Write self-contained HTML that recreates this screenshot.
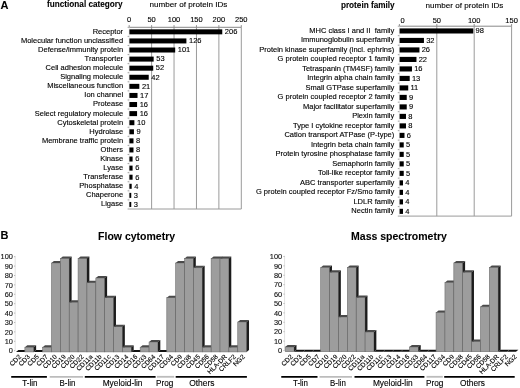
<!DOCTYPE html>
<html><head><meta charset="utf-8"><style>
html,body{margin:0;padding:0;background:#fff;}
body{width:520px;height:388px;overflow:hidden;}
svg{display:block;font-family:"Liberation Sans", sans-serif;will-change:transform;}
#w{width:520px;height:388px;}
</style></head><body><div id="w">
<svg width="520" height="388" viewBox="0 0 520 388">
<rect width="520" height="388" fill="#fff"/>
<text x="0.50" y="8.60" font-size="11" text-anchor="start" font-weight="bold" fill="#000" stroke="#000" stroke-width="0.08" >A</text>
<text x="122.60" y="6.90" font-size="8.2" text-anchor="end" font-weight="bold" fill="#000" stroke="#000" stroke-width="0.08" >functional category</text>
<text x="149.50" y="7.30" font-size="8.1" text-anchor="start" font-weight="normal" fill="#000" stroke="#000" stroke-width="0.12" >number of protein IDs</text>
<text x="129.20" y="22.00" font-size="7.5" text-anchor="middle" font-weight="normal" fill="#000" stroke="#000" stroke-width="0.12" >0</text>
<line x1="129.20" y1="25.10" x2="129.20" y2="27.30" stroke="#777" stroke-width="0.8"/>
<text x="151.62" y="22.00" font-size="7.5" text-anchor="middle" font-weight="normal" fill="#000" stroke="#000" stroke-width="0.12" >50</text>
<line x1="151.62" y1="25.10" x2="151.62" y2="27.30" stroke="#777" stroke-width="0.8"/>
<line x1="151.62" y1="27.30" x2="151.62" y2="209.00" stroke="#9a9a9a" stroke-width="1"/>
<text x="174.04" y="22.00" font-size="7.5" text-anchor="middle" font-weight="normal" fill="#000" stroke="#000" stroke-width="0.12" >100</text>
<line x1="174.04" y1="25.10" x2="174.04" y2="27.30" stroke="#777" stroke-width="0.8"/>
<line x1="174.04" y1="27.30" x2="174.04" y2="209.00" stroke="#9a9a9a" stroke-width="1"/>
<text x="196.46" y="22.00" font-size="7.5" text-anchor="middle" font-weight="normal" fill="#000" stroke="#000" stroke-width="0.12" >150</text>
<line x1="196.46" y1="25.10" x2="196.46" y2="27.30" stroke="#777" stroke-width="0.8"/>
<line x1="196.46" y1="27.30" x2="196.46" y2="209.00" stroke="#9a9a9a" stroke-width="1"/>
<text x="218.88" y="22.00" font-size="7.5" text-anchor="middle" font-weight="normal" fill="#000" stroke="#000" stroke-width="0.12" >200</text>
<line x1="218.88" y1="25.10" x2="218.88" y2="27.30" stroke="#777" stroke-width="0.8"/>
<line x1="218.88" y1="27.30" x2="218.88" y2="209.00" stroke="#9a9a9a" stroke-width="1"/>
<text x="241.30" y="22.00" font-size="7.5" text-anchor="middle" font-weight="normal" fill="#000" stroke="#000" stroke-width="0.12" >250</text>
<line x1="241.30" y1="25.10" x2="241.30" y2="27.30" stroke="#777" stroke-width="0.8"/>
<line x1="241.30" y1="27.30" x2="241.30" y2="209.00" stroke="#9a9a9a" stroke-width="1"/>
<line x1="129.20" y1="27.30" x2="241.30" y2="27.30" stroke="#888" stroke-width="1"/>
<line x1="129.20" y1="209.00" x2="241.30" y2="209.00" stroke="#9a9a9a" stroke-width="1"/>
<line x1="129.20" y1="27.30" x2="129.20" y2="209.00" stroke="#e0e0e0" stroke-width="0.6"/>
<line x1="127.60" y1="27.30" x2="129.20" y2="27.30" stroke="#999" stroke-width="0.9"/>
<line x1="127.60" y1="36.38" x2="129.20" y2="36.38" stroke="#999" stroke-width="0.9"/>
<line x1="127.60" y1="45.47" x2="129.20" y2="45.47" stroke="#999" stroke-width="0.9"/>
<line x1="127.60" y1="54.55" x2="129.20" y2="54.55" stroke="#999" stroke-width="0.9"/>
<line x1="127.60" y1="63.64" x2="129.20" y2="63.64" stroke="#999" stroke-width="0.9"/>
<line x1="127.60" y1="72.72" x2="129.20" y2="72.72" stroke="#999" stroke-width="0.9"/>
<line x1="127.60" y1="81.81" x2="129.20" y2="81.81" stroke="#999" stroke-width="0.9"/>
<line x1="127.60" y1="90.89" x2="129.20" y2="90.89" stroke="#999" stroke-width="0.9"/>
<line x1="127.60" y1="99.98" x2="129.20" y2="99.98" stroke="#999" stroke-width="0.9"/>
<line x1="127.60" y1="109.06" x2="129.20" y2="109.06" stroke="#999" stroke-width="0.9"/>
<line x1="127.60" y1="118.15" x2="129.20" y2="118.15" stroke="#999" stroke-width="0.9"/>
<line x1="127.60" y1="127.23" x2="129.20" y2="127.23" stroke="#999" stroke-width="0.9"/>
<line x1="127.60" y1="136.32" x2="129.20" y2="136.32" stroke="#999" stroke-width="0.9"/>
<line x1="127.60" y1="145.41" x2="129.20" y2="145.41" stroke="#999" stroke-width="0.9"/>
<line x1="127.60" y1="154.49" x2="129.20" y2="154.49" stroke="#999" stroke-width="0.9"/>
<line x1="127.60" y1="163.57" x2="129.20" y2="163.57" stroke="#999" stroke-width="0.9"/>
<line x1="127.60" y1="172.66" x2="129.20" y2="172.66" stroke="#999" stroke-width="0.9"/>
<line x1="127.60" y1="181.75" x2="129.20" y2="181.75" stroke="#999" stroke-width="0.9"/>
<line x1="127.60" y1="190.83" x2="129.20" y2="190.83" stroke="#999" stroke-width="0.9"/>
<line x1="127.60" y1="199.91" x2="129.20" y2="199.91" stroke="#999" stroke-width="0.9"/>
<line x1="127.60" y1="209.00" x2="129.20" y2="209.00" stroke="#999" stroke-width="0.9"/>
<rect x="129.40" y="29.34" width="92.87" height="5.00" fill="#000" />
<text x="123.10" y="33.74" font-size="7.5" text-anchor="end" font-weight="normal" fill="#000" stroke="#000" stroke-width="0.12" >Receptor</text>
<text x="224.87" y="34.14" font-size="7.5" text-anchor="start" font-weight="normal" fill="#000" stroke="#000" stroke-width="0.12" >206</text>
<rect x="129.40" y="38.43" width="57.00" height="5.00" fill="#000" />
<text x="123.10" y="42.83" font-size="7.5" text-anchor="end" font-weight="normal" fill="#000" stroke="#000" stroke-width="0.12" >Molecular function unclassified</text>
<text x="189.00" y="43.23" font-size="7.5" text-anchor="start" font-weight="normal" fill="#000" stroke="#000" stroke-width="0.12" >126</text>
<rect x="129.40" y="47.51" width="45.79" height="5.00" fill="#000" />
<text x="123.10" y="51.91" font-size="7.5" text-anchor="end" font-weight="normal" fill="#000" stroke="#000" stroke-width="0.12" >Defense/immunity protein</text>
<text x="177.79" y="52.31" font-size="7.5" text-anchor="start" font-weight="normal" fill="#000" stroke="#000" stroke-width="0.12" >101</text>
<rect x="129.40" y="56.60" width="24.27" height="5.00" fill="#000" />
<text x="123.10" y="61.00" font-size="7.5" text-anchor="end" font-weight="normal" fill="#000" stroke="#000" stroke-width="0.12" >Transporter</text>
<text x="156.27" y="61.40" font-size="7.5" text-anchor="start" font-weight="normal" fill="#000" stroke="#000" stroke-width="0.12" >53</text>
<rect x="129.40" y="65.68" width="23.82" height="5.00" fill="#000" />
<text x="123.10" y="70.08" font-size="7.5" text-anchor="end" font-weight="normal" fill="#000" stroke="#000" stroke-width="0.12" >Cell adhesion molecule</text>
<text x="155.82" y="70.48" font-size="7.5" text-anchor="start" font-weight="normal" fill="#000" stroke="#000" stroke-width="0.12" >52</text>
<rect x="129.40" y="74.77" width="19.33" height="5.00" fill="#000" />
<text x="123.10" y="79.17" font-size="7.5" text-anchor="end" font-weight="normal" fill="#000" stroke="#000" stroke-width="0.12" >Signaling molecule</text>
<text x="151.33" y="79.57" font-size="7.5" text-anchor="start" font-weight="normal" fill="#000" stroke="#000" stroke-width="0.12" >42</text>
<rect x="129.40" y="83.85" width="9.92" height="5.00" fill="#000" />
<text x="123.10" y="88.25" font-size="7.5" text-anchor="end" font-weight="normal" fill="#000" stroke="#000" stroke-width="0.12" >Miscellaneous function</text>
<text x="141.92" y="88.65" font-size="7.5" text-anchor="start" font-weight="normal" fill="#000" stroke="#000" stroke-width="0.12" >21</text>
<rect x="129.40" y="92.94" width="8.12" height="5.00" fill="#000" />
<text x="123.10" y="97.34" font-size="7.5" text-anchor="end" font-weight="normal" fill="#000" stroke="#000" stroke-width="0.12" >Ion channel</text>
<text x="140.12" y="97.74" font-size="7.5" text-anchor="start" font-weight="normal" fill="#000" stroke="#000" stroke-width="0.12" >17</text>
<rect x="129.40" y="102.02" width="7.67" height="5.00" fill="#000" />
<text x="123.10" y="106.42" font-size="7.5" text-anchor="end" font-weight="normal" fill="#000" stroke="#000" stroke-width="0.12" >Protease</text>
<text x="139.67" y="106.82" font-size="7.5" text-anchor="start" font-weight="normal" fill="#000" stroke="#000" stroke-width="0.12" >16</text>
<rect x="129.40" y="111.11" width="7.67" height="5.00" fill="#000" />
<text x="123.10" y="115.51" font-size="7.5" text-anchor="end" font-weight="normal" fill="#000" stroke="#000" stroke-width="0.12" >Select regulatory molecule</text>
<text x="139.67" y="115.91" font-size="7.5" text-anchor="start" font-weight="normal" fill="#000" stroke="#000" stroke-width="0.12" >16</text>
<rect x="129.40" y="120.19" width="4.98" height="5.00" fill="#000" />
<text x="123.10" y="124.59" font-size="7.5" text-anchor="end" font-weight="normal" fill="#000" stroke="#000" stroke-width="0.12" >Cytoskeletal protein</text>
<text x="136.98" y="124.99" font-size="7.5" text-anchor="start" font-weight="normal" fill="#000" stroke="#000" stroke-width="0.12" >10</text>
<rect x="129.40" y="129.28" width="4.54" height="5.00" fill="#000" />
<text x="123.10" y="133.68" font-size="7.5" text-anchor="end" font-weight="normal" fill="#000" stroke="#000" stroke-width="0.12" >Hydrolase</text>
<text x="136.54" y="134.08" font-size="7.5" text-anchor="start" font-weight="normal" fill="#000" stroke="#000" stroke-width="0.12" >9</text>
<rect x="129.40" y="138.36" width="4.09" height="5.00" fill="#000" />
<text x="123.10" y="142.76" font-size="7.5" text-anchor="end" font-weight="normal" fill="#000" stroke="#000" stroke-width="0.12" >Membrane traffic protein</text>
<text x="136.09" y="143.16" font-size="7.5" text-anchor="start" font-weight="normal" fill="#000" stroke="#000" stroke-width="0.12" >8</text>
<rect x="129.40" y="147.45" width="4.09" height="5.00" fill="#000" />
<text x="123.10" y="151.85" font-size="7.5" text-anchor="end" font-weight="normal" fill="#000" stroke="#000" stroke-width="0.12" >Others</text>
<text x="136.09" y="152.25" font-size="7.5" text-anchor="start" font-weight="normal" fill="#000" stroke="#000" stroke-width="0.12" >8</text>
<rect x="129.40" y="156.53" width="3.19" height="5.00" fill="#000" />
<text x="123.10" y="160.93" font-size="7.5" text-anchor="end" font-weight="normal" fill="#000" stroke="#000" stroke-width="0.12" >Kinase</text>
<text x="135.19" y="161.33" font-size="7.5" text-anchor="start" font-weight="normal" fill="#000" stroke="#000" stroke-width="0.12" >6</text>
<rect x="129.40" y="165.62" width="3.19" height="5.00" fill="#000" />
<text x="123.10" y="170.02" font-size="7.5" text-anchor="end" font-weight="normal" fill="#000" stroke="#000" stroke-width="0.12" >Lyase</text>
<text x="135.19" y="170.42" font-size="7.5" text-anchor="start" font-weight="normal" fill="#000" stroke="#000" stroke-width="0.12" >6</text>
<rect x="129.40" y="174.70" width="3.19" height="5.00" fill="#000" />
<text x="123.10" y="179.10" font-size="7.5" text-anchor="end" font-weight="normal" fill="#000" stroke="#000" stroke-width="0.12" >Transferase</text>
<text x="135.19" y="179.50" font-size="7.5" text-anchor="start" font-weight="normal" fill="#000" stroke="#000" stroke-width="0.12" >6</text>
<rect x="129.40" y="183.79" width="2.29" height="5.00" fill="#000" />
<text x="123.10" y="188.19" font-size="7.5" text-anchor="end" font-weight="normal" fill="#000" stroke="#000" stroke-width="0.12" >Phosphatase</text>
<text x="134.29" y="188.59" font-size="7.5" text-anchor="start" font-weight="normal" fill="#000" stroke="#000" stroke-width="0.12" >4</text>
<rect x="129.40" y="192.87" width="1.85" height="5.00" fill="#000" />
<text x="123.10" y="197.27" font-size="7.5" text-anchor="end" font-weight="normal" fill="#000" stroke="#000" stroke-width="0.12" >Chaperone</text>
<text x="133.85" y="197.67" font-size="7.5" text-anchor="start" font-weight="normal" fill="#000" stroke="#000" stroke-width="0.12" >3</text>
<rect x="129.40" y="201.96" width="1.85" height="5.00" fill="#000" />
<text x="123.10" y="206.36" font-size="7.5" text-anchor="end" font-weight="normal" fill="#000" stroke="#000" stroke-width="0.12" >Ligase</text>
<text x="133.85" y="206.76" font-size="7.5" text-anchor="start" font-weight="normal" fill="#000" stroke="#000" stroke-width="0.12" >3</text>
<text x="394.60" y="7.70" font-size="8.2" text-anchor="end" font-weight="bold" fill="#000" stroke="#000" stroke-width="0.08" >protein family</text>
<text x="425.60" y="8.40" font-size="8.1" text-anchor="start" font-weight="normal" fill="#000" stroke="#000" stroke-width="0.12" >number of protein IDs</text>
<text x="402.60" y="23.00" font-size="7.5" text-anchor="middle" font-weight="normal" fill="#000" stroke="#000" stroke-width="0.12" >0</text>
<line x1="399.40" y1="24.00" x2="399.40" y2="26.20" stroke="#777" stroke-width="0.8"/>
<text x="436.80" y="23.00" font-size="7.5" text-anchor="middle" font-weight="normal" fill="#000" stroke="#000" stroke-width="0.12" >50</text>
<line x1="436.80" y1="24.00" x2="436.80" y2="26.20" stroke="#777" stroke-width="0.8"/>
<line x1="436.80" y1="26.20" x2="436.80" y2="216.10" stroke="#9a9a9a" stroke-width="1"/>
<text x="474.20" y="23.00" font-size="7.5" text-anchor="middle" font-weight="normal" fill="#000" stroke="#000" stroke-width="0.12" >100</text>
<line x1="474.20" y1="24.00" x2="474.20" y2="26.20" stroke="#777" stroke-width="0.8"/>
<line x1="474.20" y1="26.20" x2="474.20" y2="216.10" stroke="#9a9a9a" stroke-width="1"/>
<text x="511.60" y="23.00" font-size="7.5" text-anchor="middle" font-weight="normal" fill="#000" stroke="#000" stroke-width="0.12" >150</text>
<line x1="511.60" y1="24.00" x2="511.60" y2="26.20" stroke="#777" stroke-width="0.8"/>
<line x1="511.60" y1="26.20" x2="511.60" y2="216.10" stroke="#9a9a9a" stroke-width="1"/>
<line x1="399.40" y1="26.20" x2="511.60" y2="26.20" stroke="#888" stroke-width="1"/>
<line x1="399.40" y1="216.10" x2="511.60" y2="216.10" stroke="#9a9a9a" stroke-width="1"/>
<line x1="399.40" y1="26.20" x2="399.40" y2="216.10" stroke="#e0e0e0" stroke-width="0.6"/>
<line x1="397.80" y1="26.20" x2="399.40" y2="26.20" stroke="#999" stroke-width="0.9"/>
<line x1="397.80" y1="35.70" x2="399.40" y2="35.70" stroke="#999" stroke-width="0.9"/>
<line x1="397.80" y1="45.19" x2="399.40" y2="45.19" stroke="#999" stroke-width="0.9"/>
<line x1="397.80" y1="54.69" x2="399.40" y2="54.69" stroke="#999" stroke-width="0.9"/>
<line x1="397.80" y1="64.18" x2="399.40" y2="64.18" stroke="#999" stroke-width="0.9"/>
<line x1="397.80" y1="73.68" x2="399.40" y2="73.68" stroke="#999" stroke-width="0.9"/>
<line x1="397.80" y1="83.17" x2="399.40" y2="83.17" stroke="#999" stroke-width="0.9"/>
<line x1="397.80" y1="92.67" x2="399.40" y2="92.67" stroke="#999" stroke-width="0.9"/>
<line x1="397.80" y1="102.16" x2="399.40" y2="102.16" stroke="#999" stroke-width="0.9"/>
<line x1="397.80" y1="111.66" x2="399.40" y2="111.66" stroke="#999" stroke-width="0.9"/>
<line x1="397.80" y1="121.15" x2="399.40" y2="121.15" stroke="#999" stroke-width="0.9"/>
<line x1="397.80" y1="130.65" x2="399.40" y2="130.65" stroke="#999" stroke-width="0.9"/>
<line x1="397.80" y1="140.14" x2="399.40" y2="140.14" stroke="#999" stroke-width="0.9"/>
<line x1="397.80" y1="149.64" x2="399.40" y2="149.64" stroke="#999" stroke-width="0.9"/>
<line x1="397.80" y1="159.13" x2="399.40" y2="159.13" stroke="#999" stroke-width="0.9"/>
<line x1="397.80" y1="168.62" x2="399.40" y2="168.62" stroke="#999" stroke-width="0.9"/>
<line x1="397.80" y1="178.12" x2="399.40" y2="178.12" stroke="#999" stroke-width="0.9"/>
<line x1="397.80" y1="187.62" x2="399.40" y2="187.62" stroke="#999" stroke-width="0.9"/>
<line x1="397.80" y1="197.11" x2="399.40" y2="197.11" stroke="#999" stroke-width="0.9"/>
<line x1="397.80" y1="206.61" x2="399.40" y2="206.61" stroke="#999" stroke-width="0.9"/>
<line x1="397.80" y1="216.10" x2="399.40" y2="216.10" stroke="#999" stroke-width="0.9"/>
<rect x="399.60" y="28.40" width="73.70" height="5.10" fill="#000" />
<text x="394.30" y="32.95" font-size="7.5" text-anchor="end" font-weight="normal" fill="#000" stroke="#000" stroke-width="0.12" >MHC class I and II  family</text>
<text x="475.50" y="33.15" font-size="7.5" text-anchor="start" font-weight="normal" fill="#000" stroke="#000" stroke-width="0.12" >98</text>
<rect x="399.60" y="37.89" width="24.34" height="5.10" fill="#000" />
<text x="394.30" y="42.44" font-size="7.5" text-anchor="end" font-weight="normal" fill="#000" stroke="#000" stroke-width="0.12" >Immunoglobulin superfamily</text>
<text x="426.14" y="42.64" font-size="7.5" text-anchor="start" font-weight="normal" fill="#000" stroke="#000" stroke-width="0.12" >32</text>
<rect x="399.60" y="47.39" width="19.85" height="5.10" fill="#000" />
<text x="394.30" y="51.94" font-size="7.5" text-anchor="end" font-weight="normal" fill="#000" stroke="#000" stroke-width="0.12" >Protein kinase superfamily (incl. ephrins)</text>
<text x="421.65" y="52.14" font-size="7.5" text-anchor="start" font-weight="normal" fill="#000" stroke="#000" stroke-width="0.12" >26</text>
<rect x="399.60" y="56.88" width="16.86" height="5.10" fill="#000" />
<text x="394.30" y="61.43" font-size="7.5" text-anchor="end" font-weight="normal" fill="#000" stroke="#000" stroke-width="0.12" >G protein coupled receptor 1 family</text>
<text x="418.66" y="61.63" font-size="7.5" text-anchor="start" font-weight="normal" fill="#000" stroke="#000" stroke-width="0.12" >22</text>
<rect x="399.60" y="66.38" width="12.37" height="5.10" fill="#000" />
<text x="394.30" y="70.93" font-size="7.5" text-anchor="end" font-weight="normal" fill="#000" stroke="#000" stroke-width="0.12" >Tetraspanin (TM4SF) family</text>
<text x="414.17" y="71.13" font-size="7.5" text-anchor="start" font-weight="normal" fill="#000" stroke="#000" stroke-width="0.12" >16</text>
<rect x="399.60" y="75.87" width="10.12" height="5.10" fill="#000" />
<text x="394.30" y="80.42" font-size="7.5" text-anchor="end" font-weight="normal" fill="#000" stroke="#000" stroke-width="0.12" >Integrin alpha chain family</text>
<text x="411.92" y="80.62" font-size="7.5" text-anchor="start" font-weight="normal" fill="#000" stroke="#000" stroke-width="0.12" >13</text>
<rect x="399.60" y="85.37" width="8.63" height="5.10" fill="#000" />
<text x="394.30" y="89.92" font-size="7.5" text-anchor="end" font-weight="normal" fill="#000" stroke="#000" stroke-width="0.12" >Small GTPase superfamily</text>
<text x="410.43" y="90.12" font-size="7.5" text-anchor="start" font-weight="normal" fill="#000" stroke="#000" stroke-width="0.12" >11</text>
<rect x="399.60" y="94.86" width="7.13" height="5.10" fill="#000" />
<text x="394.30" y="99.41" font-size="7.5" text-anchor="end" font-weight="normal" fill="#000" stroke="#000" stroke-width="0.12" >G protein coupled receptor 2 family</text>
<text x="408.93" y="99.61" font-size="7.5" text-anchor="start" font-weight="normal" fill="#000" stroke="#000" stroke-width="0.12" >9</text>
<rect x="399.60" y="104.36" width="7.13" height="5.10" fill="#000" />
<text x="394.30" y="108.91" font-size="7.5" text-anchor="end" font-weight="normal" fill="#000" stroke="#000" stroke-width="0.12" >Major facilitator superfamily</text>
<text x="408.93" y="109.11" font-size="7.5" text-anchor="start" font-weight="normal" fill="#000" stroke="#000" stroke-width="0.12" >9</text>
<rect x="399.60" y="113.85" width="6.38" height="5.10" fill="#000" />
<text x="394.30" y="118.40" font-size="7.5" text-anchor="end" font-weight="normal" fill="#000" stroke="#000" stroke-width="0.12" >Plexin family</text>
<text x="408.18" y="118.60" font-size="7.5" text-anchor="start" font-weight="normal" fill="#000" stroke="#000" stroke-width="0.12" >8</text>
<rect x="399.60" y="123.35" width="6.38" height="5.10" fill="#000" />
<text x="394.30" y="127.90" font-size="7.5" text-anchor="end" font-weight="normal" fill="#000" stroke="#000" stroke-width="0.12" >Type I cytokine receptor family</text>
<text x="408.18" y="128.10" font-size="7.5" text-anchor="start" font-weight="normal" fill="#000" stroke="#000" stroke-width="0.12" >8</text>
<rect x="399.60" y="132.84" width="4.89" height="5.10" fill="#000" />
<text x="394.30" y="137.39" font-size="7.5" text-anchor="end" font-weight="normal" fill="#000" stroke="#000" stroke-width="0.12" >Cation transport ATPase (P-type)</text>
<text x="406.69" y="137.59" font-size="7.5" text-anchor="start" font-weight="normal" fill="#000" stroke="#000" stroke-width="0.12" >6</text>
<rect x="399.60" y="142.34" width="4.14" height="5.10" fill="#000" />
<text x="394.30" y="146.89" font-size="7.5" text-anchor="end" font-weight="normal" fill="#000" stroke="#000" stroke-width="0.12" >Integrin beta chain family</text>
<text x="405.94" y="147.09" font-size="7.5" text-anchor="start" font-weight="normal" fill="#000" stroke="#000" stroke-width="0.12" >5</text>
<rect x="399.60" y="151.83" width="4.14" height="5.10" fill="#000" />
<text x="394.30" y="156.38" font-size="7.5" text-anchor="end" font-weight="normal" fill="#000" stroke="#000" stroke-width="0.12" >Protein tyrosine phosphatase family</text>
<text x="405.94" y="156.58" font-size="7.5" text-anchor="start" font-weight="normal" fill="#000" stroke="#000" stroke-width="0.12" >5</text>
<rect x="399.60" y="161.33" width="4.14" height="5.10" fill="#000" />
<text x="394.30" y="165.88" font-size="7.5" text-anchor="end" font-weight="normal" fill="#000" stroke="#000" stroke-width="0.12" >Semaphorin family</text>
<text x="405.94" y="166.08" font-size="7.5" text-anchor="start" font-weight="normal" fill="#000" stroke="#000" stroke-width="0.12" >5</text>
<rect x="399.60" y="170.82" width="4.14" height="5.10" fill="#000" />
<text x="394.30" y="175.37" font-size="7.5" text-anchor="end" font-weight="normal" fill="#000" stroke="#000" stroke-width="0.12" >Toll-like receptor family</text>
<text x="405.94" y="175.57" font-size="7.5" text-anchor="start" font-weight="normal" fill="#000" stroke="#000" stroke-width="0.12" >5</text>
<rect x="399.60" y="180.32" width="3.39" height="5.10" fill="#000" />
<text x="394.30" y="184.87" font-size="7.5" text-anchor="end" font-weight="normal" fill="#000" stroke="#000" stroke-width="0.12" >ABC transporter superfamily</text>
<text x="405.19" y="185.07" font-size="7.5" text-anchor="start" font-weight="normal" fill="#000" stroke="#000" stroke-width="0.12" >4</text>
<rect x="399.60" y="189.81" width="3.39" height="5.10" fill="#000" />
<text x="394.30" y="194.36" font-size="7.5" text-anchor="end" font-weight="normal" fill="#000" stroke="#000" stroke-width="0.12" >G protein coupled receptor Fz/Smo family</text>
<text x="405.19" y="194.56" font-size="7.5" text-anchor="start" font-weight="normal" fill="#000" stroke="#000" stroke-width="0.12" >4</text>
<rect x="399.60" y="199.31" width="3.39" height="5.10" fill="#000" />
<text x="394.30" y="203.86" font-size="7.5" text-anchor="end" font-weight="normal" fill="#000" stroke="#000" stroke-width="0.12" >LDLR family</text>
<text x="405.19" y="204.06" font-size="7.5" text-anchor="start" font-weight="normal" fill="#000" stroke="#000" stroke-width="0.12" >4</text>
<rect x="399.60" y="208.80" width="3.39" height="5.10" fill="#000" />
<text x="394.30" y="213.35" font-size="7.5" text-anchor="end" font-weight="normal" fill="#000" stroke="#000" stroke-width="0.12" >Nectin family</text>
<text x="405.19" y="213.55" font-size="7.5" text-anchor="start" font-weight="normal" fill="#000" stroke="#000" stroke-width="0.12" >4</text>
<text x="0.50" y="239.20" font-size="11" text-anchor="start" font-weight="bold" fill="#000" stroke="#000" stroke-width="0.08" >B</text>
<text x="98.10" y="240.00" font-size="10.5" text-anchor="start" font-weight="bold" fill="#000" stroke="#000" stroke-width="0.08" >Flow cytometry</text>
<text x="351.10" y="239.50" font-size="10.5" text-anchor="start" font-weight="bold" fill="#000" stroke="#000" stroke-width="0.08" >Mass spectrometry</text>
<line x1="15.20" y1="255.90" x2="15.20" y2="350.40" stroke="#e2e2e2" stroke-width="1"/>
<text x="12.90" y="353.35" font-size="7.4" text-anchor="end" font-weight="normal" fill="#111" stroke="#111" stroke-width="0.12" >0</text>
<line x1="14.00" y1="350.70" x2="15.20" y2="350.70" stroke="#aaa" stroke-width="0.8"/>
<text x="12.90" y="343.95" font-size="7.4" text-anchor="end" font-weight="normal" fill="#111" stroke="#111" stroke-width="0.12" >10</text>
<line x1="14.00" y1="341.30" x2="15.20" y2="341.30" stroke="#aaa" stroke-width="0.8"/>
<text x="12.90" y="334.55" font-size="7.4" text-anchor="end" font-weight="normal" fill="#111" stroke="#111" stroke-width="0.12" >20</text>
<line x1="14.00" y1="331.90" x2="15.20" y2="331.90" stroke="#aaa" stroke-width="0.8"/>
<text x="12.90" y="325.15" font-size="7.4" text-anchor="end" font-weight="normal" fill="#111" stroke="#111" stroke-width="0.12" >30</text>
<line x1="14.00" y1="322.50" x2="15.20" y2="322.50" stroke="#aaa" stroke-width="0.8"/>
<text x="12.90" y="315.75" font-size="7.4" text-anchor="end" font-weight="normal" fill="#111" stroke="#111" stroke-width="0.12" >40</text>
<line x1="14.00" y1="313.10" x2="15.20" y2="313.10" stroke="#aaa" stroke-width="0.8"/>
<text x="12.90" y="306.35" font-size="7.4" text-anchor="end" font-weight="normal" fill="#111" stroke="#111" stroke-width="0.12" >50</text>
<line x1="14.00" y1="303.70" x2="15.20" y2="303.70" stroke="#aaa" stroke-width="0.8"/>
<text x="12.90" y="296.95" font-size="7.4" text-anchor="end" font-weight="normal" fill="#111" stroke="#111" stroke-width="0.12" >60</text>
<line x1="14.00" y1="294.30" x2="15.20" y2="294.30" stroke="#aaa" stroke-width="0.8"/>
<text x="12.90" y="287.55" font-size="7.4" text-anchor="end" font-weight="normal" fill="#111" stroke="#111" stroke-width="0.12" >70</text>
<line x1="14.00" y1="284.90" x2="15.20" y2="284.90" stroke="#aaa" stroke-width="0.8"/>
<text x="12.90" y="278.15" font-size="7.4" text-anchor="end" font-weight="normal" fill="#111" stroke="#111" stroke-width="0.12" >80</text>
<line x1="14.00" y1="275.50" x2="15.20" y2="275.50" stroke="#aaa" stroke-width="0.8"/>
<text x="12.90" y="268.75" font-size="7.4" text-anchor="end" font-weight="normal" fill="#111" stroke="#111" stroke-width="0.12" >90</text>
<line x1="14.00" y1="266.10" x2="15.20" y2="266.10" stroke="#aaa" stroke-width="0.8"/>
<text x="12.90" y="259.35" font-size="7.4" text-anchor="end" font-weight="normal" fill="#111" stroke="#111" stroke-width="0.12" >100</text>
<line x1="14.00" y1="256.70" x2="15.20" y2="256.70" stroke="#aaa" stroke-width="0.8"/>
<polygon points="16.00,351.90 18.40,349.90 27.27,349.90 24.87,351.90" fill="#111" />
<polygon points="24.87,351.90 27.27,349.90 27.27,349.90 24.87,351.90" fill="#1c1c1c" />
<rect x="24.87" y="347.22" width="8.87" height="4.68" fill="#9d9d9d" stroke="#6f6f6f" stroke-width="0.6"/>
<polygon points="24.87,347.22 27.27,345.22 36.14,345.22 33.74,347.22" fill="#4a4a4a" />
<polygon points="33.74,347.22 36.14,345.22 36.14,349.90 33.74,351.90" fill="#1c1c1c" />
<polygon points="33.74,351.90 36.14,349.90 45.01,349.90 42.61,351.90" fill="#111" />
<polygon points="42.61,351.90 45.01,349.90 45.01,349.90 42.61,351.90" fill="#1c1c1c" />
<rect x="42.61" y="347.22" width="8.87" height="4.68" fill="#9d9d9d" stroke="#6f6f6f" stroke-width="0.6"/>
<polygon points="42.61,347.22 45.01,345.22 53.88,345.22 51.48,347.22" fill="#4a4a4a" />
<polygon points="51.48,347.22 53.88,345.22 53.88,349.90 51.48,351.90" fill="#1c1c1c" />
<rect x="51.48" y="263.07" width="8.87" height="88.83" fill="#9d9d9d" stroke="#6f6f6f" stroke-width="0.6"/>
<polygon points="51.48,263.07 53.88,261.07 62.75,261.07 60.35,263.07" fill="#4a4a4a" />
<polygon points="60.35,263.07 62.75,261.07 62.75,349.90 60.35,351.90" fill="#1c1c1c" />
<rect x="60.35" y="258.40" width="8.87" height="93.50" fill="#9d9d9d" stroke="#6f6f6f" stroke-width="0.6"/>
<polygon points="60.35,258.40 62.75,256.40 71.62,256.40 69.22,258.40" fill="#4a4a4a" />
<polygon points="69.22,258.40 71.62,256.40 71.62,349.90 69.22,351.90" fill="#1c1c1c" />
<rect x="69.22" y="302.34" width="8.87" height="49.55" fill="#9d9d9d" stroke="#6f6f6f" stroke-width="0.6"/>
<polygon points="69.22,302.34 71.62,300.34 80.49,300.34 78.09,302.34" fill="#4a4a4a" />
<polygon points="78.09,302.34 80.49,300.34 80.49,349.90 78.09,351.90" fill="#1c1c1c" />
<rect x="78.09" y="258.40" width="8.87" height="93.50" fill="#9d9d9d" stroke="#6f6f6f" stroke-width="0.6"/>
<polygon points="78.09,258.40 80.49,256.40 89.36,256.40 86.96,258.40" fill="#4a4a4a" />
<polygon points="86.96,258.40 89.36,256.40 89.36,349.90 86.96,351.90" fill="#1c1c1c" />
<rect x="86.96" y="282.71" width="8.87" height="69.19" fill="#9d9d9d" stroke="#6f6f6f" stroke-width="0.6"/>
<polygon points="86.96,282.71 89.36,280.71 98.23,280.71 95.83,282.71" fill="#4a4a4a" />
<polygon points="95.83,282.71 98.23,280.71 98.23,349.90 95.83,351.90" fill="#1c1c1c" />
<rect x="95.83" y="278.03" width="8.87" height="73.87" fill="#9d9d9d" stroke="#6f6f6f" stroke-width="0.6"/>
<polygon points="95.83,278.03 98.23,276.03 107.10,276.03 104.70,278.03" fill="#4a4a4a" />
<polygon points="104.70,278.03 107.10,276.03 107.10,349.90 104.70,351.90" fill="#1c1c1c" />
<rect x="104.70" y="297.67" width="8.87" height="54.23" fill="#9d9d9d" stroke="#6f6f6f" stroke-width="0.6"/>
<polygon points="104.70,297.67 107.10,295.67 115.97,295.67 113.57,297.67" fill="#4a4a4a" />
<polygon points="113.57,297.67 115.97,295.67 115.97,349.90 113.57,351.90" fill="#1c1c1c" />
<rect x="113.57" y="326.65" width="8.87" height="25.25" fill="#9d9d9d" stroke="#6f6f6f" stroke-width="0.6"/>
<polygon points="113.57,326.65 115.97,324.65 124.84,324.65 122.44,326.65" fill="#4a4a4a" />
<polygon points="122.44,326.65 124.84,324.65 124.84,349.90 122.44,351.90" fill="#1c1c1c" />
<rect x="122.44" y="347.22" width="8.87" height="4.68" fill="#9d9d9d" stroke="#6f6f6f" stroke-width="0.6"/>
<polygon points="122.44,347.22 124.84,345.22 133.71,345.22 131.31,347.22" fill="#4a4a4a" />
<polygon points="131.31,347.22 133.71,345.22 133.71,349.90 131.31,351.90" fill="#1c1c1c" />
<polygon points="131.31,351.90 133.71,349.90 142.58,349.90 140.18,351.90" fill="#111" />
<polygon points="140.18,351.90 142.58,349.90 142.58,349.90 140.18,351.90" fill="#1c1c1c" />
<rect x="140.18" y="347.22" width="8.87" height="4.68" fill="#9d9d9d" stroke="#6f6f6f" stroke-width="0.6"/>
<polygon points="140.18,347.22 142.58,345.22 151.45,345.22 149.05,347.22" fill="#4a4a4a" />
<polygon points="149.05,347.22 151.45,345.22 151.45,349.90 149.05,351.90" fill="#1c1c1c" />
<rect x="149.05" y="342.08" width="8.87" height="9.82" fill="#9d9d9d" stroke="#6f6f6f" stroke-width="0.6"/>
<polygon points="149.05,342.08 151.45,340.08 160.32,340.08 157.92,342.08" fill="#4a4a4a" />
<polygon points="157.92,342.08 160.32,340.08 160.32,349.90 157.92,351.90" fill="#1c1c1c" />
<polygon points="157.92,351.90 160.32,349.90 169.19,349.90 166.79,351.90" fill="#111" />
<polygon points="166.79,351.90 169.19,349.90 169.19,349.90 166.79,351.90" fill="#1c1c1c" />
<rect x="166.79" y="297.67" width="8.87" height="54.23" fill="#9d9d9d" stroke="#6f6f6f" stroke-width="0.6"/>
<polygon points="166.79,297.67 169.19,295.67 178.06,295.67 175.66,297.67" fill="#4a4a4a" />
<polygon points="175.66,297.67 178.06,295.67 178.06,349.90 175.66,351.90" fill="#1c1c1c" />
<rect x="175.66" y="263.07" width="8.87" height="88.83" fill="#9d9d9d" stroke="#6f6f6f" stroke-width="0.6"/>
<polygon points="175.66,263.07 178.06,261.07 186.93,261.07 184.53,263.07" fill="#4a4a4a" />
<polygon points="184.53,263.07 186.93,261.07 186.93,349.90 184.53,351.90" fill="#1c1c1c" />
<rect x="184.53" y="258.40" width="8.87" height="93.50" fill="#9d9d9d" stroke="#6f6f6f" stroke-width="0.6"/>
<polygon points="184.53,258.40 186.93,256.40 195.80,256.40 193.40,258.40" fill="#4a4a4a" />
<polygon points="193.40,258.40 195.80,256.40 195.80,349.90 193.40,351.90" fill="#1c1c1c" />
<rect x="193.40" y="267.75" width="8.87" height="84.15" fill="#9d9d9d" stroke="#6f6f6f" stroke-width="0.6"/>
<polygon points="193.40,267.75 195.80,265.75 204.67,265.75 202.27,267.75" fill="#4a4a4a" />
<polygon points="202.27,267.75 204.67,265.75 204.67,349.90 202.27,351.90" fill="#1c1c1c" />
<rect x="202.27" y="347.22" width="8.87" height="4.68" fill="#9d9d9d" stroke="#6f6f6f" stroke-width="0.6"/>
<polygon points="202.27,347.22 204.67,345.22 213.54,345.22 211.14,347.22" fill="#4a4a4a" />
<polygon points="211.14,347.22 213.54,345.22 213.54,349.90 211.14,351.90" fill="#1c1c1c" />
<rect x="211.14" y="258.40" width="8.87" height="93.50" fill="#9d9d9d" stroke="#6f6f6f" stroke-width="0.6"/>
<polygon points="211.14,258.40 213.54,256.40 222.41,256.40 220.01,258.40" fill="#4a4a4a" />
<polygon points="220.01,258.40 222.41,256.40 222.41,349.90 220.01,351.90" fill="#1c1c1c" />
<rect x="220.01" y="258.40" width="8.87" height="93.50" fill="#9d9d9d" stroke="#6f6f6f" stroke-width="0.6"/>
<polygon points="220.01,258.40 222.41,256.40 231.28,256.40 228.88,258.40" fill="#4a4a4a" />
<polygon points="228.88,258.40 231.28,256.40 231.28,349.90 228.88,351.90" fill="#1c1c1c" />
<rect x="228.88" y="347.22" width="8.87" height="4.68" fill="#9d9d9d" stroke="#6f6f6f" stroke-width="0.6"/>
<polygon points="228.88,347.22 231.28,345.22 240.15,345.22 237.75,347.22" fill="#4a4a4a" />
<polygon points="237.75,347.22 240.15,345.22 240.15,349.90 237.75,351.90" fill="#1c1c1c" />
<rect x="237.75" y="321.98" width="8.87" height="29.92" fill="#9d9d9d" stroke="#6f6f6f" stroke-width="0.6"/>
<polygon points="237.75,321.98 240.15,319.98 249.02,319.98 246.62,321.98" fill="#4a4a4a" />
<polygon points="246.62,321.98 249.02,319.98 249.02,349.90 246.62,351.90" fill="#1c1c1c" />
<text x="21.54" y="357.20" font-size="6.6" text-anchor="end" font-weight="normal" fill="#000" stroke="#000" stroke-width="0.12" transform="rotate(-45 21.54 357.20)">CD2</text>
<text x="30.48" y="357.20" font-size="6.6" text-anchor="end" font-weight="normal" fill="#000" stroke="#000" stroke-width="0.12" transform="rotate(-45 30.48 357.20)">CD3</text>
<text x="39.43" y="357.20" font-size="6.6" text-anchor="end" font-weight="normal" fill="#000" stroke="#000" stroke-width="0.12" transform="rotate(-45 39.43 357.20)">CD5</text>
<text x="48.39" y="357.20" font-size="6.6" text-anchor="end" font-weight="normal" fill="#000" stroke="#000" stroke-width="0.12" transform="rotate(-45 48.39 357.20)">CD7</text>
<text x="57.34" y="357.20" font-size="6.6" text-anchor="end" font-weight="normal" fill="#000" stroke="#000" stroke-width="0.12" transform="rotate(-45 57.34 357.20)">CD10</text>
<text x="66.28" y="357.20" font-size="6.6" text-anchor="end" font-weight="normal" fill="#000" stroke="#000" stroke-width="0.12" transform="rotate(-45 66.28 357.20)">CD19</text>
<text x="75.23" y="357.20" font-size="6.6" text-anchor="end" font-weight="normal" fill="#000" stroke="#000" stroke-width="0.12" transform="rotate(-45 75.23 357.20)">CD20</text>
<text x="84.18" y="357.20" font-size="6.6" text-anchor="end" font-weight="normal" fill="#000" stroke="#000" stroke-width="0.12" transform="rotate(-45 84.18 357.20)">CD22</text>
<text x="93.13" y="357.20" font-size="6.6" text-anchor="end" font-weight="normal" fill="#000" stroke="#000" stroke-width="0.12" transform="rotate(-45 93.13 357.20)">CD11a</text>
<text x="102.08" y="357.20" font-size="6.6" text-anchor="end" font-weight="normal" fill="#000" stroke="#000" stroke-width="0.12" transform="rotate(-45 102.08 357.20)">CD11b</text>
<text x="111.03" y="357.20" font-size="6.6" text-anchor="end" font-weight="normal" fill="#000" stroke="#000" stroke-width="0.12" transform="rotate(-45 111.03 357.20)">CD11c</text>
<text x="119.98" y="357.20" font-size="6.6" text-anchor="end" font-weight="normal" fill="#000" stroke="#000" stroke-width="0.12" transform="rotate(-45 119.98 357.20)">CD13</text>
<text x="128.93" y="357.20" font-size="6.6" text-anchor="end" font-weight="normal" fill="#000" stroke="#000" stroke-width="0.12" transform="rotate(-45 128.93 357.20)">CD14</text>
<text x="137.88" y="357.20" font-size="6.6" text-anchor="end" font-weight="normal" fill="#000" stroke="#000" stroke-width="0.12" transform="rotate(-45 137.88 357.20)">CD16</text>
<text x="146.83" y="357.20" font-size="6.6" text-anchor="end" font-weight="normal" fill="#000" stroke="#000" stroke-width="0.12" transform="rotate(-45 146.83 357.20)">CD33</text>
<text x="155.78" y="357.20" font-size="6.6" text-anchor="end" font-weight="normal" fill="#000" stroke="#000" stroke-width="0.12" transform="rotate(-45 155.78 357.20)">CD64</text>
<text x="164.73" y="357.20" font-size="6.6" text-anchor="end" font-weight="normal" fill="#000" stroke="#000" stroke-width="0.12" transform="rotate(-45 164.73 357.20)">CD117</text>
<text x="173.69" y="357.20" font-size="6.6" text-anchor="end" font-weight="normal" fill="#000" stroke="#000" stroke-width="0.12" transform="rotate(-45 173.69 357.20)">CD34</text>
<text x="182.63" y="357.20" font-size="6.6" text-anchor="end" font-weight="normal" fill="#000" stroke="#000" stroke-width="0.12" transform="rotate(-45 182.63 357.20)">CD9</text>
<text x="191.58" y="357.20" font-size="6.6" text-anchor="end" font-weight="normal" fill="#000" stroke="#000" stroke-width="0.12" transform="rotate(-45 191.58 357.20)">CD38</text>
<text x="200.53" y="357.20" font-size="6.6" text-anchor="end" font-weight="normal" fill="#000" stroke="#000" stroke-width="0.12" transform="rotate(-45 200.53 357.20)">CD45</text>
<text x="209.48" y="357.20" font-size="6.6" text-anchor="end" font-weight="normal" fill="#000" stroke="#000" stroke-width="0.12" transform="rotate(-45 209.48 357.20)">CD56</text>
<text x="218.43" y="357.20" font-size="6.6" text-anchor="end" font-weight="normal" fill="#000" stroke="#000" stroke-width="0.12" transform="rotate(-45 218.43 357.20)">CD58</text>
<text x="227.38" y="357.20" font-size="6.6" text-anchor="end" font-weight="normal" fill="#000" stroke="#000" stroke-width="0.12" transform="rotate(-45 227.38 357.20)">HLA-DR</text>
<text x="236.33" y="357.20" font-size="6.6" text-anchor="end" font-weight="normal" fill="#000" stroke="#000" stroke-width="0.12" transform="rotate(-45 236.33 357.20)">CRLF2</text>
<text x="245.28" y="357.20" font-size="6.6" text-anchor="end" font-weight="normal" fill="#000" stroke="#000" stroke-width="0.12" transform="rotate(-45 245.28 357.20)">NG2</text>
<line x1="284.60" y1="255.70" x2="284.60" y2="350.20" stroke="#e2e2e2" stroke-width="1"/>
<text x="282.20" y="353.15" font-size="7.4" text-anchor="end" font-weight="normal" fill="#111" stroke="#111" stroke-width="0.12" >0</text>
<line x1="283.40" y1="350.50" x2="284.60" y2="350.50" stroke="#aaa" stroke-width="0.8"/>
<text x="282.20" y="343.75" font-size="7.4" text-anchor="end" font-weight="normal" fill="#111" stroke="#111" stroke-width="0.12" >10</text>
<line x1="283.40" y1="341.10" x2="284.60" y2="341.10" stroke="#aaa" stroke-width="0.8"/>
<text x="282.20" y="334.35" font-size="7.4" text-anchor="end" font-weight="normal" fill="#111" stroke="#111" stroke-width="0.12" >20</text>
<line x1="283.40" y1="331.70" x2="284.60" y2="331.70" stroke="#aaa" stroke-width="0.8"/>
<text x="282.20" y="324.95" font-size="7.4" text-anchor="end" font-weight="normal" fill="#111" stroke="#111" stroke-width="0.12" >30</text>
<line x1="283.40" y1="322.30" x2="284.60" y2="322.30" stroke="#aaa" stroke-width="0.8"/>
<text x="282.20" y="315.55" font-size="7.4" text-anchor="end" font-weight="normal" fill="#111" stroke="#111" stroke-width="0.12" >40</text>
<line x1="283.40" y1="312.90" x2="284.60" y2="312.90" stroke="#aaa" stroke-width="0.8"/>
<text x="282.20" y="306.15" font-size="7.4" text-anchor="end" font-weight="normal" fill="#111" stroke="#111" stroke-width="0.12" >50</text>
<line x1="283.40" y1="303.50" x2="284.60" y2="303.50" stroke="#aaa" stroke-width="0.8"/>
<text x="282.20" y="296.75" font-size="7.4" text-anchor="end" font-weight="normal" fill="#111" stroke="#111" stroke-width="0.12" >60</text>
<line x1="283.40" y1="294.10" x2="284.60" y2="294.10" stroke="#aaa" stroke-width="0.8"/>
<text x="282.20" y="287.35" font-size="7.4" text-anchor="end" font-weight="normal" fill="#111" stroke="#111" stroke-width="0.12" >70</text>
<line x1="283.40" y1="284.70" x2="284.60" y2="284.70" stroke="#aaa" stroke-width="0.8"/>
<text x="282.20" y="277.95" font-size="7.4" text-anchor="end" font-weight="normal" fill="#111" stroke="#111" stroke-width="0.12" >80</text>
<line x1="283.40" y1="275.30" x2="284.60" y2="275.30" stroke="#aaa" stroke-width="0.8"/>
<text x="282.20" y="268.55" font-size="7.4" text-anchor="end" font-weight="normal" fill="#111" stroke="#111" stroke-width="0.12" >90</text>
<line x1="283.40" y1="265.90" x2="284.60" y2="265.90" stroke="#aaa" stroke-width="0.8"/>
<text x="282.20" y="259.15" font-size="7.4" text-anchor="end" font-weight="normal" fill="#111" stroke="#111" stroke-width="0.12" >100</text>
<line x1="283.40" y1="256.50" x2="284.60" y2="256.50" stroke="#aaa" stroke-width="0.8"/>
<rect x="285.20" y="347.02" width="8.88" height="4.68" fill="#9d9d9d" stroke="#6f6f6f" stroke-width="0.6"/>
<polygon points="285.20,347.02 287.60,345.02 296.47,345.02 294.07,347.02" fill="#4a4a4a" />
<polygon points="294.07,347.02 296.47,345.02 296.47,349.70 294.07,351.70" fill="#1c1c1c" />
<polygon points="294.07,351.70 296.47,349.70 305.35,349.70 302.95,351.70" fill="#111" />
<polygon points="302.95,351.70 305.35,349.70 305.35,349.70 302.95,351.70" fill="#1c1c1c" />
<polygon points="302.95,351.70 305.35,349.70 314.22,349.70 311.82,351.70" fill="#111" />
<polygon points="311.82,351.70 314.22,349.70 314.22,349.70 311.82,351.70" fill="#1c1c1c" />
<polygon points="311.82,351.70 314.22,349.70 323.10,349.70 320.70,351.70" fill="#111" />
<polygon points="320.70,351.70 323.10,349.70 323.10,349.70 320.70,351.70" fill="#1c1c1c" />
<rect x="320.70" y="267.55" width="8.88" height="84.15" fill="#9d9d9d" stroke="#6f6f6f" stroke-width="0.6"/>
<polygon points="320.70,267.55 323.10,265.55 331.97,265.55 329.57,267.55" fill="#4a4a4a" />
<polygon points="329.57,267.55 331.97,265.55 331.97,349.70 329.57,351.70" fill="#1c1c1c" />
<rect x="329.57" y="272.22" width="8.88" height="79.48" fill="#9d9d9d" stroke="#6f6f6f" stroke-width="0.6"/>
<polygon points="329.57,272.22 331.97,270.22 340.85,270.22 338.45,272.22" fill="#4a4a4a" />
<polygon points="338.45,272.22 340.85,270.22 340.85,349.70 338.45,351.70" fill="#1c1c1c" />
<rect x="338.45" y="317.11" width="8.88" height="34.59" fill="#9d9d9d" stroke="#6f6f6f" stroke-width="0.6"/>
<polygon points="338.45,317.11 340.85,315.11 349.72,315.11 347.32,317.11" fill="#4a4a4a" />
<polygon points="347.32,317.11 349.72,315.11 349.72,349.70 347.32,351.70" fill="#1c1c1c" />
<rect x="347.32" y="267.55" width="8.88" height="84.15" fill="#9d9d9d" stroke="#6f6f6f" stroke-width="0.6"/>
<polygon points="347.32,267.55 349.72,265.55 358.60,265.55 356.20,267.55" fill="#4a4a4a" />
<polygon points="356.20,267.55 358.60,265.55 358.60,349.70 356.20,351.70" fill="#1c1c1c" />
<rect x="356.20" y="297.47" width="8.88" height="54.23" fill="#9d9d9d" stroke="#6f6f6f" stroke-width="0.6"/>
<polygon points="356.20,297.47 358.60,295.47 367.47,295.47 365.07,297.47" fill="#4a4a4a" />
<polygon points="365.07,297.47 367.47,295.47 367.47,349.70 365.07,351.70" fill="#1c1c1c" />
<rect x="365.07" y="332.06" width="8.88" height="19.64" fill="#9d9d9d" stroke="#6f6f6f" stroke-width="0.6"/>
<polygon points="365.07,332.06 367.47,330.06 376.35,330.06 373.95,332.06" fill="#4a4a4a" />
<polygon points="373.95,332.06 376.35,330.06 376.35,349.70 373.95,351.70" fill="#1c1c1c" />
<polygon points="373.95,351.70 376.35,349.70 385.22,349.70 382.82,351.70" fill="#111" />
<polygon points="382.82,351.70 385.22,349.70 385.22,349.70 382.82,351.70" fill="#1c1c1c" />
<polygon points="382.82,351.70 385.22,349.70 394.10,349.70 391.70,351.70" fill="#111" />
<polygon points="391.70,351.70 394.10,349.70 394.10,349.70 391.70,351.70" fill="#1c1c1c" />
<polygon points="391.70,351.70 394.10,349.70 402.97,349.70 400.57,351.70" fill="#111" />
<polygon points="400.57,351.70 402.97,349.70 402.97,349.70 400.57,351.70" fill="#1c1c1c" />
<polygon points="400.57,351.70 402.97,349.70 411.85,349.70 409.45,351.70" fill="#111" />
<polygon points="409.45,351.70 411.85,349.70 411.85,349.70 409.45,351.70" fill="#1c1c1c" />
<rect x="409.45" y="347.02" width="8.88" height="4.68" fill="#9d9d9d" stroke="#6f6f6f" stroke-width="0.6"/>
<polygon points="409.45,347.02 411.85,345.02 420.72,345.02 418.32,347.02" fill="#4a4a4a" />
<polygon points="418.32,347.02 420.72,345.02 420.72,349.70 418.32,351.70" fill="#1c1c1c" />
<polygon points="418.32,351.70 420.72,349.70 429.60,349.70 427.20,351.70" fill="#111" />
<polygon points="427.20,351.70 429.60,349.70 429.60,349.70 427.20,351.70" fill="#1c1c1c" />
<polygon points="427.20,351.70 429.60,349.70 438.47,349.70 436.07,351.70" fill="#111" />
<polygon points="436.07,351.70 438.47,349.70 438.47,349.70 436.07,351.70" fill="#1c1c1c" />
<rect x="436.07" y="312.43" width="8.88" height="39.27" fill="#9d9d9d" stroke="#6f6f6f" stroke-width="0.6"/>
<polygon points="436.07,312.43 438.47,310.43 447.35,310.43 444.95,312.43" fill="#4a4a4a" />
<polygon points="444.95,312.43 447.35,310.43 447.35,349.70 444.95,351.70" fill="#1c1c1c" />
<rect x="444.95" y="282.51" width="8.88" height="69.19" fill="#9d9d9d" stroke="#6f6f6f" stroke-width="0.6"/>
<polygon points="444.95,282.51 447.35,280.51 456.22,280.51 453.82,282.51" fill="#4a4a4a" />
<polygon points="453.82,282.51 456.22,280.51 456.22,349.70 453.82,351.70" fill="#1c1c1c" />
<rect x="453.82" y="262.88" width="8.88" height="88.83" fill="#9d9d9d" stroke="#6f6f6f" stroke-width="0.6"/>
<polygon points="453.82,262.88 456.22,260.88 465.10,260.88 462.70,262.88" fill="#4a4a4a" />
<polygon points="462.70,262.88 465.10,260.88 465.10,349.70 462.70,351.70" fill="#1c1c1c" />
<rect x="462.70" y="272.22" width="8.88" height="79.48" fill="#9d9d9d" stroke="#6f6f6f" stroke-width="0.6"/>
<polygon points="462.70,272.22 465.10,270.22 473.97,270.22 471.57,272.22" fill="#4a4a4a" />
<polygon points="471.57,272.22 473.97,270.22 473.97,349.70 471.57,351.70" fill="#1c1c1c" />
<rect x="471.57" y="341.41" width="8.88" height="10.29" fill="#9d9d9d" stroke="#6f6f6f" stroke-width="0.6"/>
<polygon points="471.57,341.41 473.97,339.41 482.85,339.41 480.45,341.41" fill="#4a4a4a" />
<polygon points="480.45,341.41 482.85,339.41 482.85,349.70 480.45,351.70" fill="#1c1c1c" />
<rect x="480.45" y="306.82" width="8.88" height="44.88" fill="#9d9d9d" stroke="#6f6f6f" stroke-width="0.6"/>
<polygon points="480.45,306.82 482.85,304.82 491.72,304.82 489.32,306.82" fill="#4a4a4a" />
<polygon points="489.32,306.82 491.72,304.82 491.72,349.70 489.32,351.70" fill="#1c1c1c" />
<rect x="489.32" y="267.55" width="8.88" height="84.15" fill="#9d9d9d" stroke="#6f6f6f" stroke-width="0.6"/>
<polygon points="489.32,267.55 491.72,265.55 500.60,265.55 498.20,267.55" fill="#4a4a4a" />
<polygon points="498.20,267.55 500.60,265.55 500.60,349.70 498.20,351.70" fill="#1c1c1c" />
<polygon points="498.20,351.70 500.60,349.70 509.47,349.70 507.07,351.70" fill="#111" />
<polygon points="507.07,351.70 509.47,349.70 509.47,349.70 507.07,351.70" fill="#1c1c1c" />
<polygon points="507.07,351.70 509.47,349.70 518.35,349.70 515.95,351.70" fill="#111" />
<polygon points="515.95,351.70 518.35,349.70 518.35,349.70 515.95,351.70" fill="#1c1c1c" />
<text x="293.34" y="357.20" font-size="6.6" text-anchor="end" font-weight="normal" fill="#000" stroke="#000" stroke-width="0.12" transform="rotate(-45 293.34 357.20)">CD2</text>
<text x="302.29" y="357.20" font-size="6.6" text-anchor="end" font-weight="normal" fill="#000" stroke="#000" stroke-width="0.12" transform="rotate(-45 302.29 357.20)">CD3</text>
<text x="311.25" y="357.20" font-size="6.6" text-anchor="end" font-weight="normal" fill="#000" stroke="#000" stroke-width="0.12" transform="rotate(-45 311.25 357.20)">CD5</text>
<text x="320.20" y="357.20" font-size="6.6" text-anchor="end" font-weight="normal" fill="#000" stroke="#000" stroke-width="0.12" transform="rotate(-45 320.20 357.20)">CD7</text>
<text x="329.16" y="357.20" font-size="6.6" text-anchor="end" font-weight="normal" fill="#000" stroke="#000" stroke-width="0.12" transform="rotate(-45 329.16 357.20)">CD10</text>
<text x="338.11" y="357.20" font-size="6.6" text-anchor="end" font-weight="normal" fill="#000" stroke="#000" stroke-width="0.12" transform="rotate(-45 338.11 357.20)">CD19</text>
<text x="347.07" y="357.20" font-size="6.6" text-anchor="end" font-weight="normal" fill="#000" stroke="#000" stroke-width="0.12" transform="rotate(-45 347.07 357.20)">CD20</text>
<text x="356.02" y="357.20" font-size="6.6" text-anchor="end" font-weight="normal" fill="#000" stroke="#000" stroke-width="0.12" transform="rotate(-45 356.02 357.20)">CD22</text>
<text x="364.98" y="357.20" font-size="6.6" text-anchor="end" font-weight="normal" fill="#000" stroke="#000" stroke-width="0.12" transform="rotate(-45 364.98 357.20)">CD11a</text>
<text x="373.93" y="357.20" font-size="6.6" text-anchor="end" font-weight="normal" fill="#000" stroke="#000" stroke-width="0.12" transform="rotate(-45 373.93 357.20)">CD11b</text>
<text x="382.89" y="357.20" font-size="6.6" text-anchor="end" font-weight="normal" fill="#000" stroke="#000" stroke-width="0.12" transform="rotate(-45 382.89 357.20)">CD11c</text>
<text x="391.84" y="357.20" font-size="6.6" text-anchor="end" font-weight="normal" fill="#000" stroke="#000" stroke-width="0.12" transform="rotate(-45 391.84 357.20)">CD13</text>
<text x="400.80" y="357.20" font-size="6.6" text-anchor="end" font-weight="normal" fill="#000" stroke="#000" stroke-width="0.12" transform="rotate(-45 400.80 357.20)">CD14</text>
<text x="409.75" y="357.20" font-size="6.6" text-anchor="end" font-weight="normal" fill="#000" stroke="#000" stroke-width="0.12" transform="rotate(-45 409.75 357.20)">CD16</text>
<text x="418.71" y="357.20" font-size="6.6" text-anchor="end" font-weight="normal" fill="#000" stroke="#000" stroke-width="0.12" transform="rotate(-45 418.71 357.20)">CD33</text>
<text x="427.66" y="357.20" font-size="6.6" text-anchor="end" font-weight="normal" fill="#000" stroke="#000" stroke-width="0.12" transform="rotate(-45 427.66 357.20)">CD64</text>
<text x="436.62" y="357.20" font-size="6.6" text-anchor="end" font-weight="normal" fill="#000" stroke="#000" stroke-width="0.12" transform="rotate(-45 436.62 357.20)">CD117</text>
<text x="445.57" y="357.20" font-size="6.6" text-anchor="end" font-weight="normal" fill="#000" stroke="#000" stroke-width="0.12" transform="rotate(-45 445.57 357.20)">CD34</text>
<text x="454.53" y="357.20" font-size="6.6" text-anchor="end" font-weight="normal" fill="#000" stroke="#000" stroke-width="0.12" transform="rotate(-45 454.53 357.20)">CD9</text>
<text x="463.48" y="357.20" font-size="6.6" text-anchor="end" font-weight="normal" fill="#000" stroke="#000" stroke-width="0.12" transform="rotate(-45 463.48 357.20)">CD38</text>
<text x="472.44" y="357.20" font-size="6.6" text-anchor="end" font-weight="normal" fill="#000" stroke="#000" stroke-width="0.12" transform="rotate(-45 472.44 357.20)">CD45</text>
<text x="481.39" y="357.20" font-size="6.6" text-anchor="end" font-weight="normal" fill="#000" stroke="#000" stroke-width="0.12" transform="rotate(-45 481.39 357.20)">CD56</text>
<text x="490.35" y="357.20" font-size="6.6" text-anchor="end" font-weight="normal" fill="#000" stroke="#000" stroke-width="0.12" transform="rotate(-45 490.35 357.20)">CD58</text>
<text x="499.30" y="357.20" font-size="6.6" text-anchor="end" font-weight="normal" fill="#000" stroke="#000" stroke-width="0.12" transform="rotate(-45 499.30 357.20)">HLA-DR</text>
<text x="508.26" y="357.20" font-size="6.6" text-anchor="end" font-weight="normal" fill="#000" stroke="#000" stroke-width="0.12" transform="rotate(-45 508.26 357.20)">CRLF2</text>
<text x="517.21" y="357.20" font-size="6.6" text-anchor="end" font-weight="normal" fill="#000" stroke="#000" stroke-width="0.12" transform="rotate(-45 517.21 357.20)">NG2</text>
<line x1="11.20" y1="376.80" x2="46.90" y2="376.80" stroke="#000" stroke-width="1.8"/>
<line x1="49.70" y1="376.80" x2="83.10" y2="376.80" stroke="#bcbcbc" stroke-width="1.8"/>
<line x1="84.80" y1="376.80" x2="155.60" y2="376.80" stroke="#000" stroke-width="1.8"/>
<line x1="156.90" y1="376.80" x2="174.20" y2="376.80" stroke="#bcbcbc" stroke-width="1.8"/>
<line x1="175.70" y1="376.80" x2="246.90" y2="376.80" stroke="#000" stroke-width="1.8"/>
<text x="22.30" y="385.80" font-size="8.3" text-anchor="start" font-weight="normal" fill="#000" stroke="#000" stroke-width="0.12" textLength="15.1" lengthAdjust="spacingAndGlyphs">T-lin</text>
<text x="59.50" y="385.80" font-size="8.3" text-anchor="start" font-weight="normal" fill="#000" stroke="#000" stroke-width="0.12" textLength="15.9" lengthAdjust="spacingAndGlyphs">B-lin</text>
<text x="102.70" y="385.80" font-size="8.3" text-anchor="start" font-weight="normal" fill="#000" stroke="#000" stroke-width="0.12" textLength="39.8" lengthAdjust="spacingAndGlyphs">Myeloid-lin</text>
<text x="156.00" y="385.80" font-size="8.3" text-anchor="start" font-weight="normal" fill="#000" stroke="#000" stroke-width="0.12" textLength="17.3" lengthAdjust="spacingAndGlyphs">Prog</text>
<text x="189.20" y="385.80" font-size="8.3" text-anchor="start" font-weight="normal" fill="#000" stroke="#000" stroke-width="0.12" textLength="25.4" lengthAdjust="spacingAndGlyphs">Others</text>
<line x1="281.25" y1="376.80" x2="317.50" y2="376.80" stroke="#000" stroke-width="1.8"/>
<line x1="319.50" y1="376.80" x2="352.00" y2="376.80" stroke="#bcbcbc" stroke-width="1.8"/>
<line x1="354.50" y1="376.80" x2="424.40" y2="376.80" stroke="#000" stroke-width="1.8"/>
<line x1="426.50" y1="376.80" x2="442.80" y2="376.80" stroke="#bcbcbc" stroke-width="1.8"/>
<line x1="444.20" y1="376.80" x2="514.70" y2="376.80" stroke="#000" stroke-width="1.8"/>
<text x="293.00" y="385.80" font-size="8.3" text-anchor="start" font-weight="normal" fill="#000" stroke="#000" stroke-width="0.12" textLength="15.0" lengthAdjust="spacingAndGlyphs">T-lin</text>
<text x="330.00" y="385.80" font-size="8.3" text-anchor="start" font-weight="normal" fill="#000" stroke="#000" stroke-width="0.12" textLength="15.8" lengthAdjust="spacingAndGlyphs">B-lin</text>
<text x="372.90" y="385.80" font-size="8.3" text-anchor="start" font-weight="normal" fill="#000" stroke="#000" stroke-width="0.12" textLength="39.8" lengthAdjust="spacingAndGlyphs">Myeloid-lin</text>
<text x="425.90" y="385.80" font-size="8.3" text-anchor="start" font-weight="normal" fill="#000" stroke="#000" stroke-width="0.12" textLength="17.5" lengthAdjust="spacingAndGlyphs">Prog</text>
<text x="460.10" y="385.80" font-size="8.3" text-anchor="start" font-weight="normal" fill="#000" stroke="#000" stroke-width="0.12" textLength="24.9" lengthAdjust="spacingAndGlyphs">Others</text>
</svg>
</div></body></html>
